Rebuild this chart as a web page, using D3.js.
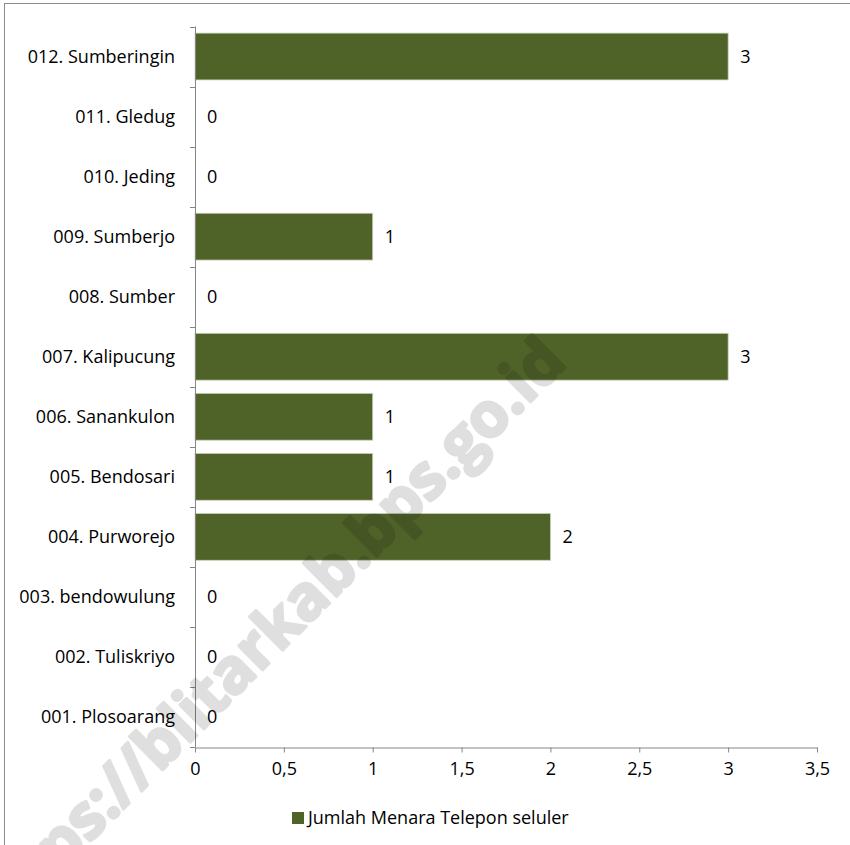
<!DOCTYPE html>
<html>
<head>
<meta charset="utf-8">
<script src="https://cdn.jsdelivr.net/npm/d3@7"></script>
<style>
  html, body { margin: 0; padding: 0; background: #fff; }
  svg { display: block; }
  text { font-family: "Open Sans", "Noto Sans", sans-serif; fill: #000; }
</style>
</head>
<body>
<svg id="chart" width="850" height="845"></svg>
<script>
const categories = [
  "012. Sumberingin", "011. Gledug", "010. Jeding", "009. Sumberjo",
  "008. Sumber", "007. Kalipucung", "006. Sanankulon", "005. Bendosari",
  "004. Purworejo", "003. bendowulung", "002. Tuliskriyo", "001. Plosoarang"
];
const values = [3, 0, 0, 1, 0, 3, 1, 1, 2, 0, 0, 0];
const xTicks = [0, 0.5, 1, 1.5, 2, 2.5, 3, 3.5];
const xTickLabels = ["0", "0,5", "1", "1,5", "2", "2,5", "3", "3,5"];
const seriesName = "Jumlah Menara Telepon seluler";
const watermark = "https://blitarkab.bps.go.id";

const svg = d3.select("#chart");
const axisColor = "#868686";
const barColor = "#4F6228";
const fs = 18;

// outer frame (only top and left edges visible)
svg.append("rect").attr("x", 4.5).attr("y", 3.5).attr("width", 900).attr("height", 900)
  .attr("fill", "none").attr("stroke", "#8c8c8c").attr("stroke-width", 1);

const x = d3.scaleLinear().domain([0, 3.5]).range([195, 817]);
const y = d3.scaleBand().domain(categories).range([26.5, 747]).paddingInner(0.22).paddingOuter(0.11);

// bars
svg.append("g").selectAll("rect").data(categories).join("rect")
  .attr("x", x(0))
  .attr("y", d => y(d))
  .attr("width", (d, i) => x(values[i]) - x(0))
  .attr("height", y.bandwidth())
  .attr("fill", barColor)
  .attr("stroke", (d, i) => values[i] > 0 ? "#c9d1bb" : "none")
  .attr("stroke-width", 0.8);

// value labels
svg.append("g").selectAll("text").data(categories).join("text")
  .attr("x", (d, i) => x(values[i]) + 12)
  .attr("y", d => y(d) + y.bandwidth() / 2)
  .attr("dy", "0.35em")
  .attr("font-size", fs)
  .text((d, i) => values[i]);

// y axis
const yBounds = d3.range(categories.length + 1).map(i => 26.5 + i * (747 - 26.5) / categories.length);
const yAxisG = svg.append("g");
yAxisG.append("line").attr("x1", x(0) + 0.5).attr("x2", x(0) + 0.5).attr("y1", 26.5).attr("y2", 747)
  .attr("stroke", axisColor);
yAxisG.selectAll("line.t").data(yBounds).join("line").attr("class", "t")
  .attr("x1", x(0) - 5).attr("x2", x(0) + 0.5).attr("y1", d => Math.round(d) + 0.5).attr("y2", d => Math.round(d) + 0.5)
  .attr("stroke", axisColor);
yAxisG.selectAll("text").data(categories).join("text")
  .attr("x", 175)
  .attr("y", d => y(d) + y.bandwidth() / 2)
  .attr("dy", "0.35em")
  .attr("text-anchor", "end")
  .attr("font-size", fs)
  .text(d => d);

// x axis
const xAxis = d3.axisBottom(x).tickValues(xTicks).tickSize(5).tickSizeOuter(0)
  .tickFormat((d, i) => xTickLabels[i]);
const xg = svg.append("g").attr("transform", "translate(0,747.5)").call(xAxis);
xg.select(".domain").attr("stroke", axisColor);
xg.selectAll(".tick line").attr("stroke", axisColor);
xg.selectAll(".tick text").attr("font-size", fs).attr("font-family", "Open Sans").attr("fill", "#000")
  .attr("y", 15);

// legend
const lg = svg.append("g").attr("transform", "translate(292,812)");
lg.append("rect").attr("width", 12).attr("height", 12).attr("fill", barColor);
lg.append("text").attr("x", 16).attr("y", 6).attr("dy", "0.35em").attr("font-size", fs).text(seriesName);

// watermark
svg.append("g").attr("opacity", 0.12)
  .append("text")
  .attr("transform", "translate(266,636) rotate(-45)")
  .attr("text-anchor", "middle")
  .attr("dy", "0.35em")
  .attr("font-size", 62)
  .attr("font-weight", "bold")
  .style("fill", "#000")
  .style("stroke", "#000")
  .style("stroke-width", 3)
  .style("stroke-linejoin", "round")
  .text(watermark);
</script>
</body>
</html>
